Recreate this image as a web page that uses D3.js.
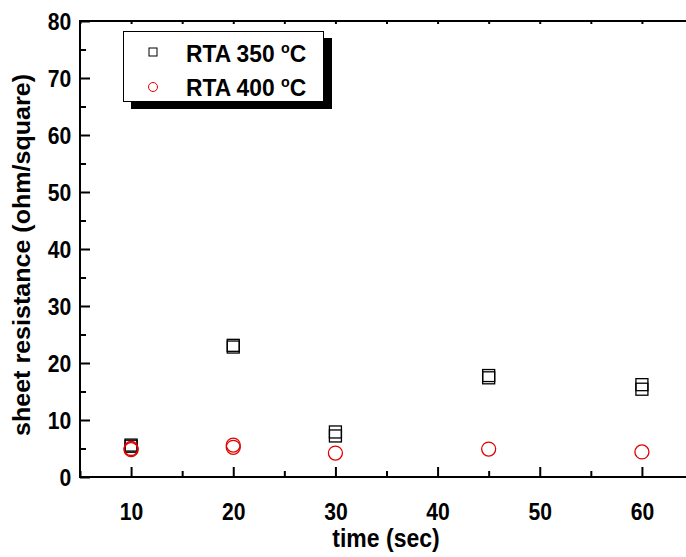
<!DOCTYPE html>
<html><head><meta charset="utf-8">
<script src="https://cdn.jsdelivr.net/npm/d3@7"></script>
<style>body{margin:0;background:#fff}svg{display:block}text{font-family:"Liberation Sans",Arial,sans-serif;font-weight:bold}</style>
</head><body>
<script>
// data
const times350 = [10, 10, 20, 20, 30, 30, 45, 45, 60, 60];
const rta350   = [5.6, 5.4, 23.1, 22.8, 7.9, 7.2, 17.8, 17.4, 16.2, 15.4];
const times400 = [10, 10, 20, 20, 30, 45, 60];
const rta400   = [5.0, 4.8, 5.6, 5.2, 4.2, 4.9, 4.4];
const xTicks = [10, 20, 30, 40, 50, 60];
const yTicks = [0, 10, 20, 30, 40, 50, 60, 70, 80];
const seriesNames = ["RTA 350 ", "RTA 400 "];

const W = 686, H = 557;
const svg = d3.select("body").append("svg").attr("width", W).attr("height", H);
const x = d3.scaleLinear().domain([5, 65]).range([80, 693]);
const y = d3.scaleLinear().domain([0, 80]).range([477, 21]);

const g = svg.append("g");
const xMinor = d3.range(5, 66, 5);
const yMinor = d3.range(0, 81, 5);

g.append("g").attr("transform", `translate(0,${y(0)})`)
  .call(d3.axisBottom(x).tickValues(xMinor.filter(v => !xTicks.includes(v))).tickSize(-6).tickFormat(""))
  .call(a => a.select(".domain").remove());
g.append("g").attr("transform", `translate(0,${y(0)})`)
  .call(d3.axisBottom(x).tickValues(xTicks).tickSize(-10).tickPadding(26).tickFormat(d3.format("d")))
  .call(a => a.select(".domain").remove())
  .call(a => a.selectAll("text").attr("font-size", 24).attr("fill", "#000").attr("transform", "scale(0.88,1)"));
g.append("g").attr("transform", `translate(${x(5)},0)`)
  .call(d3.axisLeft(y).tickValues(yMinor.filter(v => !yTicks.includes(v))).tickSize(-6).tickFormat(""))
  .call(a => a.select(".domain").remove());
g.append("g").attr("transform", `translate(${x(5)},0)`)
  .call(d3.axisLeft(y).tickValues(yTicks).tickSize(-10).tickPadding(10).tickFormat(d3.format("d")))
  .call(a => a.select(".domain").remove())
  .call(a => a.selectAll("text").attr("font-size", 24).attr("fill", "#000").attr("dy", "0.36em").attr("transform", "scale(0.88,1)"));
g.append("g").attr("transform", `translate(0,${y(80)})`)
  .call(d3.axisTop(x).tickValues(xMinor).tickSize(-3).tickFormat(""))
  .call(a => a.select(".domain").remove());
g.selectAll(".tick line").attr("stroke", "#000").attr("stroke-width", 2);

// frame
svg.append("rect").attr("x", x(5)).attr("y", y(80)).attr("width", x(65) - x(5)).attr("height", y(0) - y(80))
  .attr("fill", "none").attr("stroke", "#000").attr("stroke-width", 2);

// axis titles
svg.append("text").attr("transform", "translate(386,547) scale(0.92,1)").attr("text-anchor", "middle").attr("font-size", 25).text("time (sec)");
svg.append("text").attr("transform", "translate(30,255) rotate(-90)").attr("text-anchor", "middle").attr("font-size", 24)
  .attr("textLength", 362).attr("lengthAdjust", "spacingAndGlyphs")
  .text("sheet resistance (ohm/square)");

// data marks
const s = 12;
svg.append("g").selectAll("rect").data(times350.map((t, i) => [t, rta350[i]])).join("rect")
  .attr("x", d => x(d[0]) - s / 2).attr("y", d => y(d[1]) - s / 2).attr("width", s).attr("height", s)
  .attr("fill", "none").attr("stroke", "#000").attr("stroke-width", 1.3);
svg.append("g").selectAll("circle").data(times400.map((t, i) => [t, rta400[i]])).join("circle")
  .attr("cx", d => x(d[0])).attr("cy", d => y(d[1])).attr("r", 7)
  .attr("fill", "none").attr("stroke", "#e00000").attr("stroke-width", 1.3);

// legend
const L = svg.append("g");
L.append("rect").attr("x", 131).attr("y", 38).attr("width", 201).attr("height", 71).attr("fill", "#000");
L.append("rect").attr("x", 123.5).attr("y", 31.5).attr("width", 200).attr("height", 70).attr("fill", "#fff").attr("stroke", "#000").attr("stroke-width", 1);
L.append("rect").attr("x", 149).attr("y", 48).attr("width", 8).attr("height", 8).attr("fill", "none").attr("stroke", "#000").attr("stroke-width", 1);
L.append("circle").attr("cx", 153).attr("cy", 87).attr("r", 4.5).attr("fill", "none").attr("stroke", "#e00000").attr("stroke-width", 1);
seriesNames.forEach((n, i) => {
  const t = L.append("text").attr("transform", `translate(186,${62 + i * 34}) scale(0.95,1)`).attr("font-size", 24);
  t.append("tspan").text(n);
  t.append("tspan").attr("dy", -9).attr("font-size", 15).text("o");
  t.append("tspan").attr("dy", 9).text("C");
});
</script>
</body></html>
